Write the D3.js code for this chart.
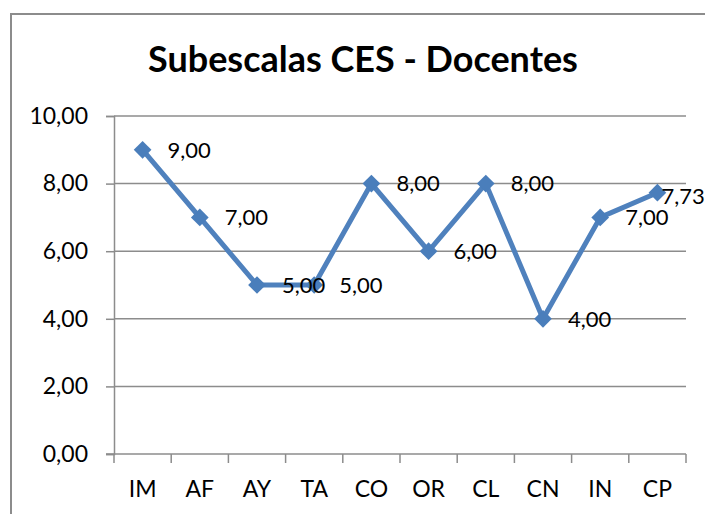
<!DOCTYPE html>
<html>
<head>
<meta charset="utf-8">
<script src="https://cdn.jsdelivr.net/npm/d3@7"></script>
<style>
  body { margin: 0; background: #fff; }
  text { font-family: Lato, "Open Sans", sans-serif; fill: #000; }
</style>
</head>
<body>
<article></article>
<script>
const categories = ['IM', 'AF', 'AY', 'TA', 'CO', 'OR', 'CL', 'CN', 'IN', 'CP']
const values = [9, 7, 5, 5, 8, 6, 8, 4, 7, 7.73]
const yTicks = [0, 2, 4, 6, 8, 10]

const m = { width: 705, height: 514 }
const plot = { left: 114, right: 686, top: 116, bottom: 454 }

const svg = d3.select('article').append('svg')
    .attr('width', m.width)
    .attr('height', m.height)

// chart frame
svg.append('rect')
    .attr('x', 11).attr('y', 14)
    .attr('width', 720).attr('height', 520)
    .attr('fill', 'none')
    .attr('stroke', '#8c8c8c')
    .attr('stroke-width', 2)

const fmt = v => v.toFixed(2).replace('.', ',')

const x = d3.scaleBand()
    .domain(categories)
    .range([plot.left, plot.right])

const y = d3.scaleLinear()
    .domain([0, 10])
    .range([plot.bottom, plot.top])

// title
const title = svg.append('text')
    .attr('x', 363).attr('y', 72)
    .attr('text-anchor', 'middle')
    .style('font-weight', 'bold')
    .style('font-size', '27px')
    .text('Subescalas CES - Docentes')
const tw = title.node().getComputedTextLength()
title.style('font-size', (27 * 430 / tw) + 'px')

// gridlines
svg.append('g').selectAll('line')
    .data(yTicks.filter(d => d > 0))
    .enter().append('line')
    .attr('x1', plot.left).attr('x2', plot.right)
    .attr('y1', d => y(d)).attr('y2', d => y(d))
    .attr('stroke', '#8c8c8c')
    .attr('stroke-width', 1.5)

// y axis
const yAxis = svg.append('g')
    .attr('transform', `translate(${plot.left},0)`)
    .call(d3.axisLeft(y).tickValues(yTicks).tickFormat(fmt).tickSize(8).tickPadding(18))
yAxis.selectAll('line, path').attr('stroke', '#8c8c8c').attr('stroke-width', 1.5)
yAxis.selectAll('text').style('font-size', '23px').attr('fill', '#000')

// x axis, ticks between categories
const xAxis = svg.append('g')
    .attr('transform', `translate(0,${plot.bottom})`)
xAxis.append('line')
    .attr('x1', plot.left - 8).attr('x2', plot.right)
    .attr('stroke', '#8c8c8c').attr('stroke-width', 1.5)
xAxis.selectAll('.tk')
    .data(categories.concat(['end']))
    .enter().append('line')
    .attr('class', 'tk')
    .attr('x1', (d, i) => plot.left + i * x.step())
    .attr('x2', (d, i) => plot.left + i * x.step())
    .attr('y1', 0).attr('y2', 9)
    .attr('stroke', '#8c8c8c').attr('stroke-width', 1.5)
xAxis.selectAll('.lbl')
    .data(categories)
    .enter().append('text')
    .attr('class', 'lbl')
    .attr('x', d => x(d) + x.bandwidth() / 2)
    .attr('y', 43)
    .attr('text-anchor', 'middle')
    .style('font-size', '23px')
    .text(d => d)

const cx = (d, i) => x(categories[i]) + x.bandwidth() / 2

// line
const line = d3.line()
    .x((d, i) => cx(d, i))
    .y(d => y(d))

svg.append('path')
    .datum(values)
    .attr('d', line)
    .attr('fill', 'none')
    .attr('stroke', '#4f81bd')
    .attr('stroke-width', 5)
    .attr('stroke-linejoin', 'round')

// diamonds
svg.append('g').selectAll('path')
    .data(values)
    .enter().append('path')
    .attr('d', d3.symbol().type(d3.symbolDiamond2).size(200))
    .attr('transform', (d, i) => `translate(${cx(d, i)},${y(d)})`)
    .attr('fill', '#4a7ebb')

// data labels, the last one squeezed against the frame edge
const last = values.length - 1
svg.append('g').selectAll('text')
    .data(values)
    .enter().append('text')
    .attr('x', (d, i) => cx(d, i) + (i === last ? 4 : 25))
    .attr('y', (d, i) => y(d) + (i === last ? 4 : 0))
    .attr('dy', '0.35em')
    .style('font-size', '22px')
    .text(d => fmt(d))
</script>
</body>
</html>
